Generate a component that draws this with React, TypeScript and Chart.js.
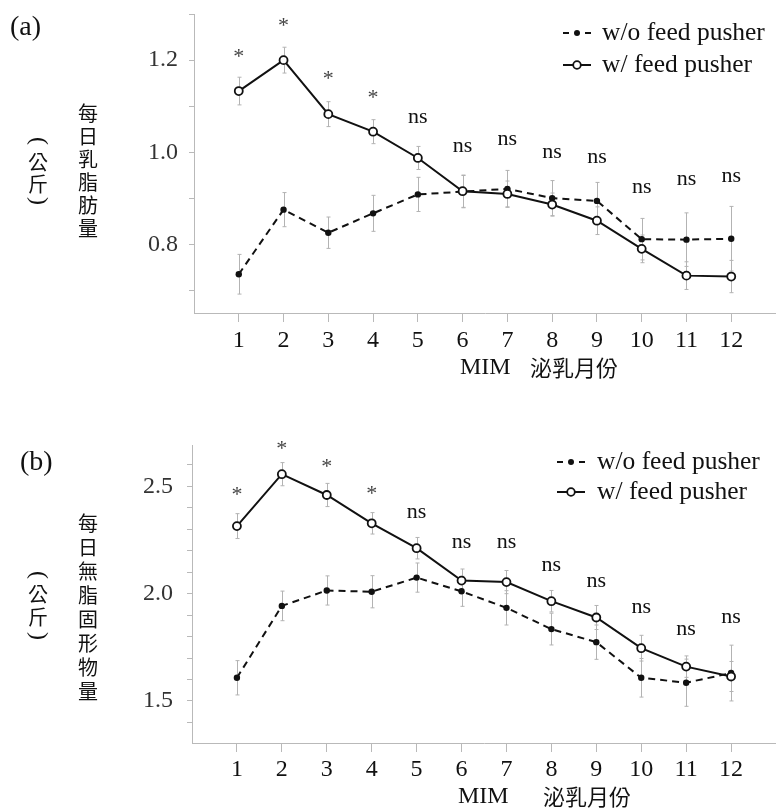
import React, { useEffect, useRef } from "react";
import { Chart, registerables } from "chart.js";

Chart.register(...registerables);

// ---------- data ----------
const months = [1, 2, 3, 4, 5, 6, 7, 8, 9, 10, 11, 12];
const seriesNames = ["w/o feed pusher", "w/ feed pusher"];

// (a) daily milk fat (kg)
const fatWithout = [0.736, 0.876, 0.826, 0.868, 0.909, 0.915, 0.921, 0.901, 0.895, 0.812, 0.811, 0.813];
const fatWith = [1.133, 1.2, 1.083, 1.045, 0.988, 0.916, 0.91, 0.887, 0.852, 0.791, 0.733, 0.731];
const fatWithoutErr = [0.043, 0.037, 0.034, 0.039, 0.037, 0.035, 0.04, 0.038, 0.04, 0.045, 0.058, 0.07];
const fatWithErr = [0.03, 0.028, 0.027, 0.026, 0.025, 0.035, 0.028, 0.025, 0.03, 0.03, 0.03, 0.035];
const fatSig = ["*", "*", "*", "*", "ns", "ns", "ns", "ns", "ns", "ns", "ns", "ns"];
const fatSigY = [1.215, 1.282, 1.168, 1.127, 1.075, 1.012, 1.027, 0.999, 0.988, 0.924, 0.941, 0.947];
const fatTicks = [0.7, 0.8, 0.9, 1.0, 1.1, 1.2, 1.3];
const fatTickLabels = [0.8, 1.0, 1.2];
const fatTitle = ["每", "日", "乳", "脂", "肪", "量"];

// (b) daily solids-not-fat (kg)
const snfWithout = [1.608, 1.943, 2.015, 2.009, 2.075, 2.011, 1.934, 1.835, 1.774, 1.608, 1.585, 1.63];
const snfWith = [2.315, 2.557, 2.46, 2.328, 2.212, 2.061, 2.054, 1.965, 1.889, 1.746, 1.66, 1.614];
const snfWithoutErr = [0.08, 0.069, 0.068, 0.075, 0.068, 0.07, 0.08, 0.074, 0.08, 0.09, 0.11, 0.13];
const snfWithErr = [0.058, 0.054, 0.054, 0.05, 0.05, 0.054, 0.054, 0.05, 0.056, 0.06, 0.05, 0.07];
const snfSig = ["*", "*", "*", "*", "ns", "ns", "ns", "ns", "ns", "ns", "ns", "ns"];
const snfSigY = [2.477, 2.692, 2.608, 2.485, 2.377, 2.235, 2.235, 2.128, 2.057, 1.934, 1.831, 1.888];
const snfTicks = [1.4, 1.5, 1.6, 1.7, 1.8, 1.9, 2.0, 2.1, 2.2, 2.3, 2.4, 2.5, 2.6];
const snfTickLabels = [1.5, 2.0, 2.5];
const snfTitle = ["每", "日", "無", "脂", "固", "形", "物", "量"];

const unitChars = ["公", "斤"];
const xTitleLatin = "MIM";
const xTitleCJK = "泌乳月份";

// ---------- styling / layout ----------
const SERIF = "'Liberation Serif', 'Times New Roman', serif";
const CJK = "'Noto Sans CJK TC', 'Noto Sans CJK SC', sans-serif";
const AXIS_GRAY = "#b9b9b9";
const ERR_GRAY = "#b3b3b3";
const INK = "#111111";

type Layout = {
  height: number;
  top: number;
  areaLeft: number;
  areaTop: number;
  xScaleHeight: number;
  yTickPad: number;
  xTickPad: number;
  letter: string;
  letterX: number;
  letterY: number;
  titleX: number;
  titleY0: number;
  titleStep: number;
  unitX: number;
  unitYs: number[]; // top paren, 公, 斤, bottom paren
  legendX0: number;
  legendX1: number;
  legendTextX: number;
  legendYs: number[];
  mimX: number;
  cjkX: number;
  xTitleY: number;
};

type PanelData = {
  without: number[];
  withP: number[];
  withoutErr: number[];
  withErr: number[];
  sig: string[];
  sigY: number[];
  ticks: number[];
  tickLabels: number[];
  min: number;
  max: number;
  title: string[];
};

function makeDecor(d: PanelData, L: Layout) {
  return {
    id: "decor",
    beforeDatasetsDraw(chart: any) {
      const ctx = chart.ctx as CanvasRenderingContext2D;
      const xs = chart.scales.x;
      const ys = chart.scales.y;
      ctx.save();
      ctx.strokeStyle = ERR_GRAY;
      ctx.lineWidth = 1;
      const drawErr = (vals: number[], errs: number[]) => {
        vals.forEach((v, i) => {
          const x = Math.round(xs.getPixelForValue(months[i])) + 0.5;
          const y1 = ys.getPixelForValue(v + errs[i]);
          const y2 = ys.getPixelForValue(v - errs[i]);
          ctx.beginPath();
          ctx.moveTo(x, y1);
          ctx.lineTo(x, y2);
          ctx.moveTo(x - 2, y1);
          ctx.lineTo(x + 2, y1);
          ctx.moveTo(x - 2, y2);
          ctx.lineTo(x + 2, y2);
          ctx.stroke();
        });
      };
      drawErr(d.without, d.withoutErr);
      drawErr(d.withP, d.withErr);
      ctx.restore();
    },
    afterDatasetsDraw(chart: any) {
      const ctx = chart.ctx as CanvasRenderingContext2D;
      const xs = chart.scales.x;
      const ys = chart.scales.y;
      ctx.save();
      ctx.fillStyle = INK;
      // significance marks
      const fs = 22;
      ctx.font = `${fs}px ${SERIF}`;
      ctx.textAlign = "center";
      ctx.textBaseline = "alphabetic";
      d.sig.forEach((s, i) => {
        const x = xs.getPixelForValue(months[i]);
        const yc = ys.getPixelForValue(d.sigY[i]);
        const off = s === "*" ? 0.46 * fs : 0.23 * fs;
        ctx.fillStyle = s === "*" ? "#444" : INK;
        ctx.fillText(s, x, yc + off);
      });
      ctx.fillStyle = INK;

      // panel letter
      ctx.font = `28px ${SERIF}`;
      ctx.textAlign = "left";
      ctx.textBaseline = "middle";
      ctx.fillText(L.letter, L.letterX, L.letterY);

      // vertical y title
      ctx.font = `20px ${CJK}`;
      ctx.textAlign = "center";
      ctx.textBaseline = "middle";
      d.title.forEach((c, i) => {
        ctx.fillText(c, L.titleX, L.titleY0 + i * L.titleStep);
      });
      // unit (公斤) vertical
      ctx.fillText(unitChars[0], L.unitX, L.unitYs[1]);
      ctx.fillText(unitChars[1], L.unitX, L.unitYs[2]);
      ctx.font = `24px ${SERIF}`;
      [
        ["(", L.unitYs[0]],
        [")", L.unitYs[3]],
      ].forEach(([p, y]) => {
        ctx.save();
        ctx.translate(L.unitX, y as number);
        ctx.rotate(Math.PI / 2);
        ctx.fillText(p as string, 0, 0);
        ctx.restore();
      });

      // x title
      ctx.textAlign = "left";
      ctx.textBaseline = "middle";
      ctx.font = `24px ${SERIF}`;
      ctx.fillText(xTitleLatin, L.mimX, L.xTitleY);
      ctx.font = `22px ${CJK}`;
      ctx.fillText(xTitleCJK, L.cjkX, L.xTitleY);

      // legend
      ctx.font = `25.5px ${SERIF}`;
      ctx.textBaseline = "middle";
      ctx.textAlign = "left";
      L.legendYs.forEach((y, i) => {
        ctx.save();
        ctx.strokeStyle = INK;
        ctx.lineWidth = 2;
        const cx = (L.legendX0 + L.legendX1) / 2;
        ctx.beginPath();
        if (i === 0) {
          ctx.moveTo(L.legendX0, y);
          ctx.lineTo(L.legendX0 + 6, y);
          ctx.moveTo(L.legendX1 - 6, y);
          ctx.lineTo(L.legendX1, y);
        } else {
          ctx.moveTo(L.legendX0, y);
          ctx.lineTo(L.legendX1, y);
        }
        ctx.stroke();
        ctx.beginPath();
        if (i === 0) {
          ctx.arc(cx, y, 3, 0, Math.PI * 2);
          ctx.fillStyle = INK;
          ctx.fill();
        } else {
          ctx.arc(cx, y, 3.8, 0, Math.PI * 2);
          ctx.fillStyle = "#fff";
          ctx.fill();
          ctx.lineWidth = 1.8;
          ctx.stroke();
        }
        ctx.restore();
        ctx.fillStyle = INK;
        ctx.fillText(seriesNames[i], L.legendTextX, y);
      });
      ctx.restore();
    },
  };
}

function Panel({ d, L }: { d: PanelData; L: Layout }) {
  const ref = useRef<HTMLCanvasElement>(null);
  useEffect(() => {
    const canvas = ref.current!;
    const chart = new Chart(canvas, {
      type: "line",
      data: {
        datasets: [
          {
            label: seriesNames[1],
            data: months.map((m, i) => ({ x: m, y: d.withP[i] })),
            borderColor: INK,
            borderWidth: 2,
            pointRadius: 4,
            pointBackgroundColor: "#ffffff",
            pointBorderColor: INK,
            pointBorderWidth: 1.8,
            order: 0,
          },
          {
            label: seriesNames[0],
            data: months.map((m, i) => ({ x: m, y: d.without[i] })),
            borderColor: INK,
            borderWidth: 2,
            borderDash: [7, 5],
            pointRadius: 3.2,
            pointBackgroundColor: INK,
            pointBorderColor: INK,
            pointBorderWidth: 0,
            order: 1,
          },
        ],
      },
      options: {
        animation: false,
        responsive: false,
        devicePixelRatio: 1,
        layout: { autoPadding: false, padding: { left: 0, right: 0, top: L.areaTop, bottom: 0 } },
        plugins: { legend: { display: false }, tooltip: { enabled: false } },
        scales: {
          x: {
            type: "linear",
            min: 0,
            max: 13,
            afterBuildTicks: (s: any) => {
              s.ticks = months.map((m) => ({ value: m }));
            },
            afterFit: (s: any) => {
              s.height = L.xScaleHeight;
              s.paddingLeft = 0;
              s.paddingRight = 0;
              s.paddingTop = 0;
              s.paddingBottom = 0;
            },
            grid: { drawOnChartArea: false, drawTicks: true, tickLength: 9, color: AXIS_GRAY },
            border: { display: true, color: AXIS_GRAY, width: 1 },
            ticks: {
              autoSkip: false,
              maxRotation: 0,
              padding: L.xTickPad,
              color: INK,
              font: { family: SERIF, size: 24 },
              callback: (v: any) => String(v),
            },
          },
          y: {
            type: "linear",
            min: d.min,
            max: d.max,
            afterBuildTicks: (s: any) => {
              s.ticks = d.ticks.map((t) => ({ value: t }));
            },
            afterFit: (s: any) => {
              s.width = L.areaLeft;
              s.paddingTop = 0;
              s.paddingBottom = 0;
              s.paddingLeft = 0;
              s.paddingRight = 0;
            },
            grid: { drawOnChartArea: false, drawTicks: true, tickLength: 5, color: AXIS_GRAY },
            border: { display: true, color: AXIS_GRAY, width: 1 },
            ticks: {
              autoSkip: false,
              padding: L.yTickPad,
              color: "#333",
              font: { family: SERIF, size: 24 },
              callback: (v: any) => {
                const n = Number(v);
                return d.tickLabels.some((t) => Math.abs(t - n) < 1e-6) ? n.toFixed(1) : "";
              },
            },
          },
        },
      },
      plugins: [makeDecor(d, L)],
    } as any);
    return () => chart.destroy();
  }, []);
  return (
    <div style={{ position: "absolute", left: 0, top: L.top, width: 776, height: L.height }}>
      <canvas ref={ref} width={776} height={L.height} style={{ width: 776, height: L.height, display: "block" }} />
    </div>
  );
}

const fatData: PanelData = {
  without: fatWithout,
  withP: fatWith,
  withoutErr: fatWithoutErr,
  withErr: fatWithErr,
  sig: fatSig,
  sigY: fatSigY,
  ticks: fatTicks,
  tickLabels: fatTickLabels,
  min: 0.652,
  max: 1.3,
  title: fatTitle,
};

const snfData: PanelData = {
  without: snfWithout,
  withP: snfWith,
  withoutErr: snfWithoutErr,
  withErr: snfWithErr,
  sig: snfSig,
  sigY: snfSigY,
  ticks: snfTicks,
  tickLabels: snfTickLabels,
  min: 1.304,
  max: 2.693,
  title: snfTitle,
};

const fatLayout: Layout = {
  height: 400,
  top: 0,
  areaLeft: 194,
  areaTop: 14,
  xScaleHeight: 87,
  yTickPad: 11,
  xTickPad: 4,
  letter: "(a)",
  letterX: 10,
  letterY: 28,
  titleX: 88,
  titleY0: 113,
  titleStep: 23,
  unitX: 38,
  unitYs: [141, 162, 184, 201],
  legendX0: 563,
  legendX1: 591,
  legendTextX: 602,
  legendYs: [33, 65],
  mimX: 460,
  cjkX: 530,
  xTitleY: 368,
};

const snfLayout: Layout = {
  height: 412,
  top: 400,
  areaLeft: 192,
  areaTop: 45,
  xScaleHeight: 69,
  yTickPad: 14,
  xTickPad: 3,
  letter: "(b)",
  letterX: 20,
  letterY: 63,
  titleX: 88,
  titleY0: 123,
  titleStep: 24.1,
  unitX: 38,
  unitYs: [175, 194, 217, 236],
  legendX0: 557,
  legendX1: 585,
  legendTextX: 597,
  legendYs: [62, 92],
  mimX: 458,
  cjkX: 543,
  xTitleY: 397,
};

export default function App() {
  return (
    <div style={{ position: "absolute", left: 0, top: 0, width: 776, height: 812, background: "#fff" }}>
      <Panel d={fatData} L={fatLayout} />
      <Panel d={snfData} L={snfLayout} />
    </div>
  );
}
